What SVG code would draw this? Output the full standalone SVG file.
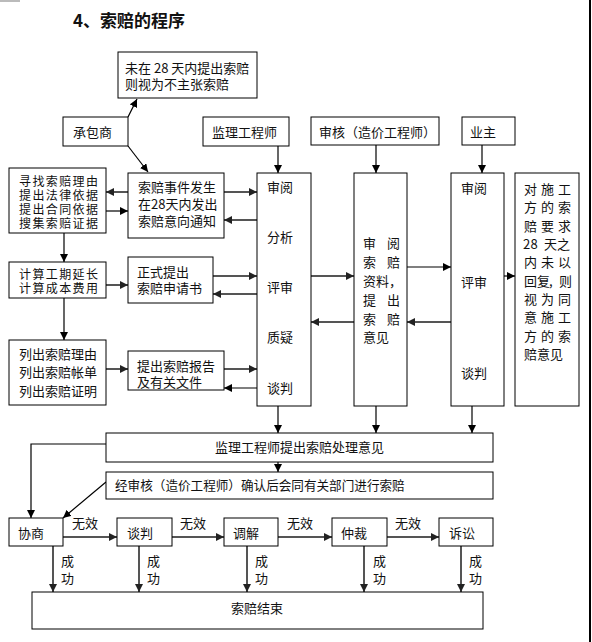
<svg xmlns="http://www.w3.org/2000/svg" width="592" height="642" viewBox="0 0 592 642">
<style>
text{font-family:"Noto Sans CJK SC","Liberation Sans",sans-serif;font-size:13px;fill:#111}
.t{font-size:17px;font-weight:bold}
.s{font-size:12px}
.b{fill:#fff;stroke:#000;stroke-width:1}
.k{stroke:#000;stroke-width:1.2;fill:none;marker-end:url(#ak)}
.g{stroke:#555;stroke-width:2;fill:none;marker-end:url(#ag)}
</style>
<defs>
<marker id="ak" markerUnits="userSpaceOnUse" markerWidth="9" markerHeight="8" refX="8" refY="4" orient="auto"><path d="M0,0 L8,4 L0,8 z" fill="#000"/></marker>
<marker id="ag" markerUnits="userSpaceOnUse" markerWidth="9" markerHeight="8" refX="8" refY="4" orient="auto"><path d="M0,0 L8,4 L0,8 z" fill="#222"/></marker>
</defs>
<rect width="592" height="642" fill="#fff"/>
<rect x="0" y="0" width="20" height="2" fill="#bbb"/>
<rect x="589" y="0" width="2" height="642" fill="#000"/>
<text class="t" x="73" y="27">4、索赔的程序</text>

<g id="connectors">
<line class="k" x1="128" y1="117" x2="137" y2="99"/>
<line class="k" x1="128" y1="146" x2="148" y2="172"/>
<line class="k" x1="278" y1="146" x2="278" y2="173"/>
<line class="k" x1="376" y1="145" x2="376" y2="173"/>
<line class="k" x1="482" y1="145" x2="482" y2="173"/>
<line class="g" x1="128" y1="192" x2="106" y2="192"/>
<line class="k" x1="106" y1="211" x2="128" y2="211"/>
<line class="g" x1="224" y1="192" x2="257" y2="192"/>
<line class="g" x1="257" y1="220" x2="224" y2="220"/>
<line class="k" x1="64" y1="233" x2="64" y2="262"/>
<line class="g" x1="106" y1="285" x2="128" y2="285"/>
<line class="g" x1="213" y1="276" x2="257" y2="276"/>
<line class="g" x1="257" y1="294" x2="213" y2="294"/>
<line class="k" x1="64" y1="298" x2="64" y2="340"/>
<line class="g" x1="106" y1="369" x2="128" y2="369"/>
<line class="g" x1="224" y1="369" x2="257" y2="369"/>
<line class="k" x1="257" y1="388" x2="224" y2="388"/>
<line class="g" x1="311" y1="276" x2="354" y2="276"/>
<line class="g" x1="354" y1="322" x2="311" y2="322"/>
<line class="k" x1="407" y1="267" x2="451" y2="267"/>
<line class="g" x1="451" y1="322" x2="407" y2="322"/>
<line class="k" x1="504" y1="276" x2="515" y2="276"/>
<line class="k" x1="278" y1="406" x2="278" y2="433"/>
<line class="k" x1="376" y1="406" x2="376" y2="433"/>
<line class="k" x1="472" y1="406" x2="472" y2="433"/>
<line class="k" x1="278" y1="462" x2="278" y2="472"/>
<polyline class="k" points="106,444 31,444 31,518"/>
<line class="k" x1="106" y1="482" x2="63" y2="518"/>
<line class="g" x1="63" y1="537" x2="117" y2="537"/>
<line class="g" x1="172" y1="537" x2="224" y2="537"/>
<line class="g" x1="278" y1="537" x2="332" y2="537"/>
<line class="g" x1="387" y1="537" x2="439" y2="537"/>
<line class="g" x1="53" y1="546" x2="53" y2="592"/>
<line class="g" x1="139" y1="546" x2="139" y2="592"/>
<line class="g" x1="247" y1="546" x2="247" y2="592"/>
<line class="g" x1="364" y1="546" x2="364" y2="592"/>
<line class="g" x1="461" y1="546" x2="461" y2="592"/>
<text x="72" y="528">无效</text>
<text x="180" y="528">无效</text>
<text x="287" y="528">无效</text>
<text x="395" y="528">无效</text>
<text x="61" y="566">成</text><text x="61" y="583">功</text>
<text x="147" y="566">成</text><text x="147" y="583">功</text>
<text x="255" y="566">成</text><text x="255" y="583">功</text>
<text x="373" y="566">成</text><text x="373" y="583">功</text>
<text x="469" y="566">成</text><text x="469" y="583">功</text>
</g>

<g id="n-notice"><rect class="b" x="118" y="52" width="139" height="46"/>
<text x="125" y="73">未在 28 天内提出索赔</text><text x="125" y="89">则视为不主张索赔</text></g>
<g id="n-contractor"><rect class="b" x="63" y="117" width="65" height="29"/><text x="73" y="137">承包商</text></g>
<g id="n-supervisor"><rect class="b" x="203" y="117" width="86" height="29"/><text x="212" y="137">监理工程师</text></g>
<g id="n-cost"><rect class="b" x="311" y="117" width="128" height="28"/><text x="319" y="137">审核（造价工程师）</text></g>
<g id="n-owner"><rect class="b" x="462" y="117" width="53" height="28"/><text x="470" y="137">业主</text></g>

<g id="n-find"><rect class="b" x="9" y="168" width="97" height="65"/>
<text class="s" x="19" y="185.5" textLength="79">寻找索赔理由</text><text class="s" x="19" y="199.5" textLength="79">提出法律依据</text><text class="s" x="19" y="214" textLength="79">提出合同依据</text><text class="s" x="19" y="228" textLength="79">搜集索赔证据</text></g>
<g id="n-event"><rect class="b" x="128" y="173" width="96" height="65"/>
<text x="138" y="192">索赔事件发生</text><text x="138" y="209">在28天内发出</text><text x="138" y="226">索赔意向通知</text></g>
<g id="n-calc"><rect class="b" x="9" y="262" width="97" height="36"/>
<text class="s" x="19" y="278.5" textLength="79">计算工期延长</text><text class="s" x="19" y="293" textLength="79">计算成本费用</text></g>
<g id="n-apply"><rect class="b" x="128" y="257" width="85" height="46"/>
<text x="137" y="277">正式提出</text><text x="137" y="293">索赔申请书</text></g>
<g id="n-list"><rect class="b" x="9" y="340" width="97" height="65"/>
<text x="19" y="359">列出索赔理由</text><text x="19" y="377">列出索赔帐单</text><text x="19" y="396">列出索赔证明</text></g>
<g id="n-report"><rect class="b" x="128" y="351" width="96" height="39"/>
<text x="137" y="371">提出索赔报告</text><text x="137" y="387">及有关文件</text></g>

<g id="n-col1"><rect class="b" x="257" y="173" width="54" height="233"/>
<text x="267" y="192">审阅</text><text x="267" y="242">分析</text><text x="267" y="292">评审</text><text x="267" y="342">质疑</text><text x="267" y="393">谈判</text></g>
<g id="n-col2"><rect class="b" x="354" y="173" width="53" height="233"/>
<text x="363 387" y="248">审阅</text><text x="363 387" y="267">索赔</text><text x="363" y="286">资料，</text><text x="363 387" y="305">提出</text><text x="363 387" y="324">索赔</text><text x="363" y="342">意见</text></g>
<g id="n-col3"><rect class="b" x="451" y="173" width="53" height="233"/>
<text x="461" y="193">审阅</text><text x="461" y="287">评审</text><text x="461" y="378">谈判</text></g>
<g id="n-reply"><rect class="b" x="515" y="173" width="64" height="233"/>
<text x="524 541 558" y="194">对施工</text>
<text x="524 541 558" y="212">方的索</text>
<text x="524 541 558" y="231">赔要求</text>
<text x="523 530.5 538 544 557" y="249">28 天之</text>
<text x="524 541 558" y="267">内未以</text>
<text x="524 537 549 559" y="286">回复,则</text>
<text x="524 541 558" y="304">视为同</text>
<text x="524 541 558" y="322">意施工</text>
<text x="524 541 558" y="341">方的索</text>
<text x="524" y="359">赔意见</text></g>

<g id="n-opinion"><rect class="b" x="106" y="433" width="387" height="29"/>
<text x="299.5" y="452" text-anchor="middle">监理工程师提出索赔处理意见</text></g>
<g id="n-confirm"><rect class="b" x="106" y="472" width="387" height="27"/>
<text x="115" y="490" style="font-size:12.6px">经审核（造价工程师）确认后会同有关部门进行索赔</text></g>
<g id="n-negotiate"><rect class="b" x="9" y="518" width="54" height="28"/><text x="18" y="538">协商</text></g>
<g id="n-talk"><rect class="b" x="117" y="518" width="55" height="28"/><text x="127" y="538">谈判</text></g>
<g id="n-mediate"><rect class="b" x="224" y="518" width="54" height="28"/><text x="233" y="538">调解</text></g>
<g id="n-arbitrate"><rect class="b" x="332" y="518" width="55" height="28"/><text x="341" y="538">仲裁</text></g>
<g id="n-sue"><rect class="b" x="439" y="518" width="54" height="28"/><text x="449" y="538">诉讼</text></g>
<g id="n-end"><rect class="b" x="32" y="592" width="451" height="37"/><text x="257" y="613" text-anchor="middle">索赔结束</text></g>
</svg>
